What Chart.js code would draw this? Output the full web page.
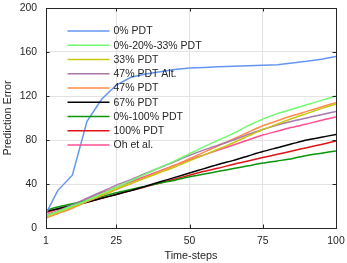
<!DOCTYPE html>
<html>
<head>
<meta charset="utf-8">
<script src="https://cdn.jsdelivr.net/npm/chart.js@4"></script>
<style>
  html, body { margin: 0; padding: 0; background: #fff; }
  #wrap { width: 347px; height: 263px; }
</style>
</head>
<body>
<div id="wrap"><canvas id="chart"></canvas></div>
<script>
const timeSteps = [1, 5, 10, 15, 20, 25, 30, 35, 40, 45, 50, 55, 60, 65, 70, 75, 80, 85, 90, 95, 100];
const xTicks = [1, 25, 50, 75, 100];

const pdt0 = [13, 34, 48, 97, 117, 130, 137, 140, 142, 144, 145.5, 146, 146.5, 147, 147.5, 148, 148.5, 150, 151.5, 153.5, 156];
const pdt0_20_33 = [11, 15, 20, 25, 31, 37, 43, 49, 55, 61, 67.5, 74, 80, 86, 93, 99, 104, 108, 112, 116, 120];
const pdt33 = [10, 14, 19, 24.5, 30, 35.5, 40.5, 45.5, 50.5, 55.5, 61, 66.5, 72, 77.5, 83.5, 89.5, 94.5, 99.5, 104, 108.5, 112.7];
const pdt47alt = [11, 15.5, 21, 27, 33, 39, 44, 49.5, 55, 60.5, 66, 71, 75.5, 80, 85, 89.5, 93.5, 97, 100, 103, 106];
const pdt47 = [9, 13, 18, 24, 29.5, 35, 40.5, 46, 51.5, 57, 63, 69, 75, 81, 87, 93, 97.5, 102, 106, 110, 114];
const pdt67 = [15, 17.5, 20.5, 23.5, 27, 30.5, 34, 38, 42, 46, 50, 54, 58, 61.5, 65.5, 69.5, 73, 76.5, 80, 82.5, 85];
const pdt0_100 = [16, 19, 22, 25, 28.5, 32, 35, 38, 41, 43.5, 46.5, 49, 51.5, 54, 56.5, 59, 61, 63, 66, 68, 70];
const pdt100 = [14, 17, 20, 23.5, 27, 30.5, 34, 37.5, 41, 44.5, 48, 51.5, 54.5, 58, 61, 64, 67, 70, 73, 76, 79];
const ohEtAl = [12, 15.5, 21, 26.5, 32, 37, 42, 47, 52, 57, 62, 66.5, 71, 75.5, 80, 84.5, 88, 91.5, 94.5, 98, 101];

const seriesLabels = ['0% PDT', '0%-20%-33% PDT', '33% PDT', '47% PDT Alt.', '47% PDT', '67% PDT', '0%-100% PDT', '100% PDT', 'Oh et al.'];
const seriesValues = [pdt0, pdt0_20_33, pdt33, pdt47alt, pdt47, pdt67, pdt0_100, pdt100, ohEtAl];
const seriesColors = ['#6496f0', '#70fa70', '#c8c810', '#a878aa', '#ff8c48', '#000000', '#0a960a', '#e01418', '#ff4f90'];

const FONT = '"Liberation Sans", Arial, sans-serif';
const TEXT = '#262626';

const datasets = seriesValues.map((vals, i) => ({
  label: seriesLabels[i],
  data: vals.map((v, j) => ({ x: timeSteps[j], y: v })),
  borderColor: seriesColors[i],
  backgroundColor: seriesColors[i],
  borderWidth: 1.5,
  pointRadius: 0,
  tension: i === 0 ? 0 : 0.2
}));

// inline legend + box frame with inward ticks, like the original figure
const framePlugin = {
  id: 'frame',
  afterDraw(chart) {
    const { ctx, chartArea: a, scales } = chart;
    ctx.save();
    ctx.strokeStyle = TEXT;
    ctx.lineWidth = 1;
    ctx.strokeRect(Math.round(a.left) + 0.5, Math.round(a.top) + 0.5,
      Math.round(a.right - a.left), Math.round(a.bottom - a.top));
    const t = 3.5;
    ctx.beginPath();
    scales.x.ticks.forEach((tk) => {
      const px = Math.round(scales.x.getPixelForValue(tk.value)) + 0.5;
      ctx.moveTo(px, a.bottom); ctx.lineTo(px, a.bottom - t);
      ctx.moveTo(px, a.top); ctx.lineTo(px, a.top + t);
    });
    scales.y.ticks.forEach((tk) => {
      const py = Math.round(scales.y.getPixelForValue(tk.value)) + 0.5;
      ctx.moveTo(a.left, py); ctx.lineTo(a.left + t, py);
      ctx.moveTo(a.right, py); ctx.lineTo(a.right - t, py);
    });
    ctx.stroke();

    // legend
    ctx.font = '10.5px ' + FONT;
    ctx.textBaseline = 'middle';
    ctx.fillStyle = TEXT;
    chart.data.datasets.forEach((ds, i) => {
      const y = 31 + i * 14.25;
      ctx.strokeStyle = ds.borderColor;
      ctx.lineWidth = 1.5;
      ctx.beginPath();
      ctx.moveTo(67.5, y);
      ctx.lineTo(109.5, y);
      ctx.stroke();
      ctx.fillText(ds.label, 113.5, y + 0.5);
    });
    ctx.restore();
  }
};

new Chart(document.getElementById('chart'), {
  type: 'line',
  data: { datasets },
  options: {
    responsive: true,
    maintainAspectRatio: false,
    animation: false,
    events: [],
    layout: { padding: { left: 0, right: 11, top: 8, bottom: 0 } },
    plugins: { legend: { display: false }, tooltip: { enabled: false } },
    scales: {
      x: {
        type: 'linear',
        min: 1,
        max: 100,
        afterBuildTicks(scale) {
          scale.ticks = xTicks.map((v) => ({ value: v }));
        },
        afterFit(scale) { scale.height = 35; },
        grid: { color: '#e3e3e3', drawTicks: true, tickLength: 7, tickColor: 'rgba(0,0,0,0)' },
        border: { display: false },
        ticks: { color: TEXT, padding: 0, maxRotation: 0, font: { family: FONT, size: 10.4 } },
        title: { display: true, text: 'Time-steps', color: TEXT, padding: { top: 0, bottom: 0 }, font: { family: FONT, size: 10.8 } }
      },
      y: {
        min: 0,
        max: 200,
        ticks: { stepSize: 40, color: TEXT, padding: 0, font: { family: FONT, size: 10.4 } },
        afterFit(scale) { scale.width = 46; },
        grid: { color: '#e3e3e3', drawTicks: true, tickLength: 9, tickColor: 'rgba(0,0,0,0)' },
        border: { display: false },
        title: { display: true, text: 'Prediction Error', color: TEXT, padding: { top: 2, bottom: 0 }, font: { family: FONT, size: 10.8 } }
      }
    }
  },
  plugins: [framePlugin]
});
</script>
</body>
</html>
